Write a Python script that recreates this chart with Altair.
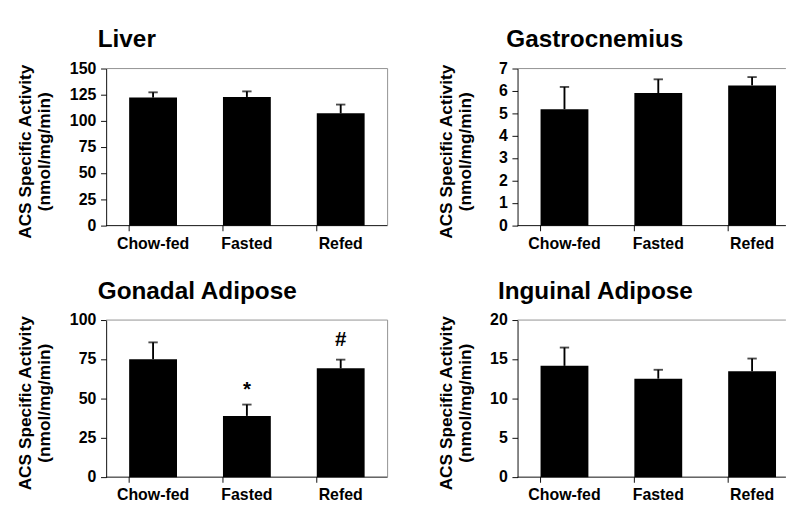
import altair as alt
import pandas as pd

categories = ["Chow-fed", "Fasted", "Refed"]

liver_mean = [122.3, 122.9, 107.2]
liver_err = [5.0, 5.3, 8.4]

gastro_mean = [5.19, 5.91, 6.25]
gastro_err = [0.99, 0.61, 0.37]

gonadal_mean = [75.1, 39.0, 69.3]
gonadal_err = [10.7, 7.2, 5.5]
gonadal_marks = ["", "*", "#"]

inguinal_mean = [14.17, 12.54, 13.48]
inguinal_err = [2.33, 1.13, 1.62]

ytitle_lines = ["ACS Specific Activity", "(nmol/mg/min)"]

FONT = "Liberation Sans"
H = 168


def panel(title, mean, err, ymax, step, marks=None, cut=False, title_dx=-9, ytitle_x=-80):
    W = 287 if cut else 301
    df = pd.DataFrame({
        "cat": categories,
        "mean": mean,
        "err": err,
        "mark": marks if marks else ["", "", ""],
    })
    df["top"] = df["mean"] + df["err"]

    xscale = alt.Scale(domain=categories, paddingInner=0.49, paddingOuter=0.245, range=[0, 301])
    xaxis = alt.Axis(title=None, labelAngle=0, domain=False, ticks=False, grid=False,
                     labelFont=FONT, labelFontSize=17, labelFontWeight="bold",
                     labelColor="black", labelPadding=11)
    yscale = alt.Scale(domain=[0, ymax], nice=False, zero=True)
    yaxis = alt.Axis(values=list(range(0, ymax + 1, step)), grid=False, labelOverlap=False,
                     domainColor="black", domainWidth=1, tickColor="black", tickSize=6,
                     labelFont=FONT, labelFontSize=17, labelFontWeight="bold",
                     labelColor="black", labelPadding=5, title=None)

    base = alt.Chart(df)
    x = alt.X("cat:N", scale=xscale, axis=xaxis, sort=categories)

    def Y(field):
        return alt.Y(field, scale=yscale, axis=yaxis)

    bars = base.mark_bar(color="black").encode(x=x, y=Y("mean:Q"))
    err_line = base.mark_rule(color="black", strokeWidth=2).encode(
        x=x, y=Y("mean:Q"), y2="top:Q"
    )
    err_cap = base.mark_tick(color="black", orient="horizontal", size=10, thickness=2).encode(
        x=x, y=Y("top:Q")
    )
    ticks = base.mark_rule(color="black", strokeWidth=1).encode(
        x=alt.X("cat:N", scale=xscale, axis=xaxis, sort=categories, bandPosition=0),
        y=alt.value(H), y2=alt.value(H + 6)
    )
    one = alt.Chart(pd.DataFrame({"k": [0]}))
    baseline = one.mark_rule(color="black", strokeWidth=1).encode(
        x=alt.value(0), x2=alt.value(W), y=alt.value(H)
    )
    top_border = one.mark_rule(color="#8c8c8c", strokeWidth=1).encode(
        x=alt.value(0), x2=alt.value(W), y=alt.value(0)
    )
    layers = [bars, err_line, err_cap, ticks, baseline, top_border]
    # y-axis title, two single lines
    for i, line in enumerate(ytitle_lines):
        layers.append(
            one.mark_text(text=line, angle=270, font=FONT, fontSize=18.5, fontWeight="bold",
                          color="black", align="center", baseline="alphabetic").encode(
                x=alt.value(ytitle_x + 20 * i), y=alt.value(H / 2 + 5)
            )
        )
    if not cut:
        right_border = one.mark_rule(color="#8c8c8c", strokeWidth=1).encode(
            x=alt.value(W), y=alt.value(0), y2=alt.value(H)
        )
        layers.append(right_border)
    if marks:
        for sym, dy in (("*", -16), ("#", -22)):
            txt = base.transform_filter(alt.datum.mark == sym).mark_text(
                font=FONT, fontSize=22, fontWeight="bold", color="black",
                baseline="middle", dy=dy
            ).encode(x=x, y=Y("top:Q"), text="mark:N")
            layers.append(txt)

    return alt.layer(*layers).properties(
        width=W, height=H,
        title=alt.TitleParams(title, anchor="start", frame="group", font=FONT,
                              fontSize=26, fontWeight="bold", color="black",
                              offset=9, dx=title_dx),
    )


liver = panel("Liver", liver_mean, liver_err, 150, 25)
gastro = panel("Gastrocnemius", gastro_mean, gastro_err, 7, 1, cut=True,
               title_dx=-12, ytitle_x=-70)
gonadal = panel("Gonadal Adipose", gonadal_mean, gonadal_err, 100, 25, marks=gonadal_marks)
inguinal = panel("Inguinal Adipose", inguinal_mean, inguinal_err, 20, 5, cut=True,
                 title_dx=-21, ytitle_x=-70)

row1 = alt.hconcat(liver, gastro, spacing=53)
row2 = alt.hconcat(gonadal, inguinal, spacing=53)
chart = alt.vconcat(row1, row2, spacing=30).properties(
    padding={"left": 10, "top": 3, "right": 0, "bottom": 0},
    background="white",
).configure_view(stroke=None)

chart.save("out.html", embed_options={"renderer": "svg", "actions": False})
